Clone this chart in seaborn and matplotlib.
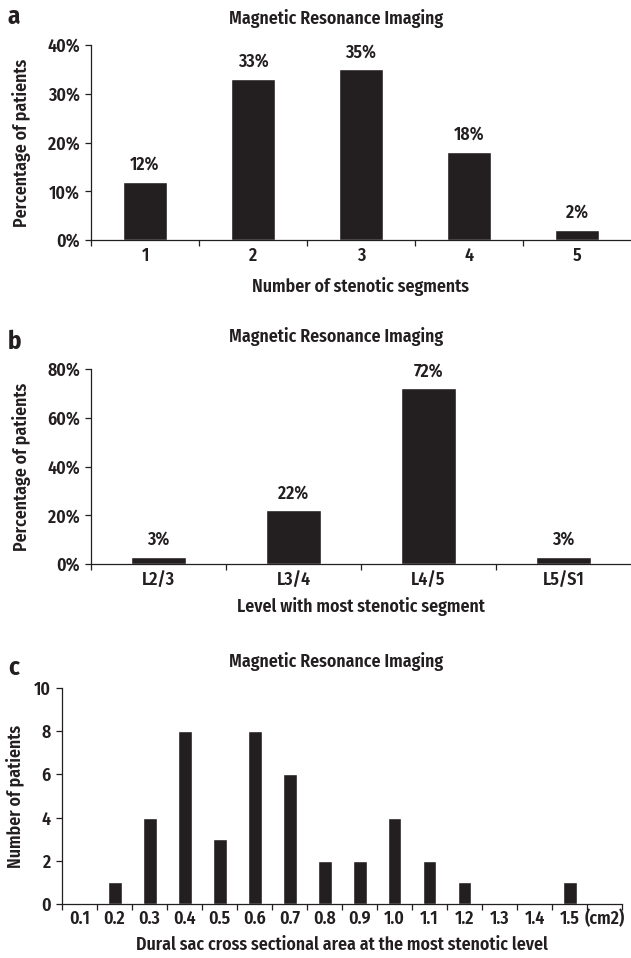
import matplotlib
matplotlib.use('Agg')
import matplotlib.pyplot as plt
import seaborn as sns
import pandas as pd
from matplotlib import font_manager as fm
from matplotlib.ticker import FixedLocator

sns.set_style('ticks')


def heavy(name):
    for f in fm.fontManager.ttflist:
        if f.name == name:
            w = f.weight if isinstance(f.weight, int) else fm.weight_dict.get(f.weight, 400)
            if 580 <= w <= 720:
                return True
    return False


FONT = next((f for f in ['Fira Sans Condensed', 'PT Sans Narrow', 'Roboto Condensed',
                         'Open Sans Condensed', 'Archivo Narrow', 'Source Sans Pro']
             if heavy(f)), 'Liberation Sans')
plt.rcParams['font.family'] = [FONT, 'DejaVu Sans']
plt.rcParams['font.weight'] = 'semibold'
plt.rcParams['axes.labelweight'] = 'semibold'

BAR = '#231f20'
INK = '#231f20'
TITLE = 'Magnetic Resonance Imaging'

# ── data ──────────────────────────────────────────────────────────────
seg_labels = ['1', '2', '3', '4', '5']
seg_pct = [12, 33, 35, 18, 2]

level_labels = ['L2/3', 'L3/4', 'L4/5', 'L5/S1']
level_pct = [3, 22, 72, 3]

area_labels = ['0.1', '0.2', '0.3', '0.4', '0.5', '0.6', '0.7', '0.8',
               '0.9', '1.0', '1.1', '1.2', '1.3', '1.4', '1.5']
area_counts = [0, 1, 4, 8, 3, 8, 6, 2, 2, 4, 2, 1, 0, 0, 1]
area_unit = '(cm2)'

fig = plt.figure(figsize=(6.31, 9.58), dpi=100)
W, H = 631, 958
FS = 12.8


def add_ax(left, top, right, bottom):
    ax = fig.add_axes([left / W, 1 - bottom / H, (right - left) / W, (bottom - top) / H])
    ax._px = (left, top, right, bottom)
    return ax


def style(ax, n_slots, n_ticks, fs=FS):
    sns.despine(ax=ax)
    ax.set_xlim(-0.5, n_slots - 0.5)
    ax.xaxis.set_minor_locator(FixedLocator([i - 0.5 for i in range(n_ticks)]))
    ax.tick_params(axis='x', which='major', length=0, pad=5, labelsize=fs, labelcolor=INK)
    ax.tick_params(axis='x', which='minor', length=4, width=0.9, color=INK)
    ax.tick_params(axis='y', length=4, width=0.9, labelsize=fs, pad=4, color=INK, labelcolor=INK)
    for s in ax.spines.values():
        s.set_linewidth(0.9)
        s.set_color(INK)


def labels(ax, xlab, ylab, xlab_y, ylab_x):
    left, top, right, bottom = ax._px
    ax.set_xlabel(xlab, fontsize=FS, color=INK, va='center')
    ax.set_ylabel(ylab, fontsize=FS, color=INK, va='center')
    ax.xaxis.set_label_coords(0.5, -(xlab_y - bottom) / (bottom - top))
    ax.yaxis.set_label_coords(-(left - ylab_x) / (right - left), 0.5)


def label_bars(ax, vals):
    for i, v in enumerate(vals):
        ax.annotate(f'{v}%', (i, v), xytext=(0, 12.5), textcoords='offset points',
                    ha='center', va='center', fontsize=FS, color=INK)


def heading(y_title, y_letter, letter):
    fig.text(336 / W, 1 - y_title / H, TITLE, ha='center', va='center', fontsize=FS, color=INK)
    fig.text(8 / W, 1 - y_letter / H, letter, ha='left', va='center', fontsize=18,
             fontweight='bold', color=INK)


# ── panel a ──
ax = add_ax(91, 45, 631, 240)
df_a = pd.DataFrame({'seg': seg_labels, 'pct': seg_pct})
sns.barplot(data=df_a, x='seg', y='pct', color=BAR, saturation=1, width=0.41, ax=ax)
ax.set_ylim(0, 40)
ax.set_yticks([0, 10, 20, 30, 40])
ax.set_yticklabels([f'{t}%' for t in [0, 10, 20, 30, 40]])
style(ax, 5, 5)
label_bars(ax, seg_pct)
labels(ax, 'Number of stenotic segments', 'Percentage of patients', 287, 22)
heading(19, 17, 'a')

# ── panel b ──
ax = add_ax(91, 369, 631, 564)
df_b = pd.DataFrame({'lvl': level_labels, 'pct': level_pct})
sns.barplot(data=df_b, x='lvl', y='pct', color=BAR, saturation=1, width=0.41, ax=ax)
ax.set_ylim(0, 80)
ax.set_yticks([0, 20, 40, 60, 80])
ax.set_yticklabels([f'{t}%' for t in [0, 20, 40, 60, 80]])
style(ax, 4, 4)
label_bars(ax, level_pct)
labels(ax, 'Level with most stenotic segment', 'Percentage of patients', 607, 22)
heading(337, 342, 'b')

# ── panel c ──
ax = add_ax(62, 688, 622, 904)
df_c = pd.DataFrame({'area': area_labels, 'n': area_counts})
sns.barplot(data=df_c, x='area', y='n', color=BAR, saturation=1, width=0.4, ax=ax)
ax.set_ylim(0, 10)
ax.set_yticks(range(0, 11, 2))
ax.set_xticks(range(len(area_labels) + 1))
ax.set_xticklabels(area_labels + [area_unit])
style(ax, len(area_labels) + 1, len(area_labels) + 2)
ax.tick_params(axis='x', which='major', pad=4)
labels(ax, 'Dural sac cross sectional area at the most stenotic level', 'Number of patients',
       945, 16)
heading(662, 668, 'c')

fig.savefig('out.png', dpi=100)
